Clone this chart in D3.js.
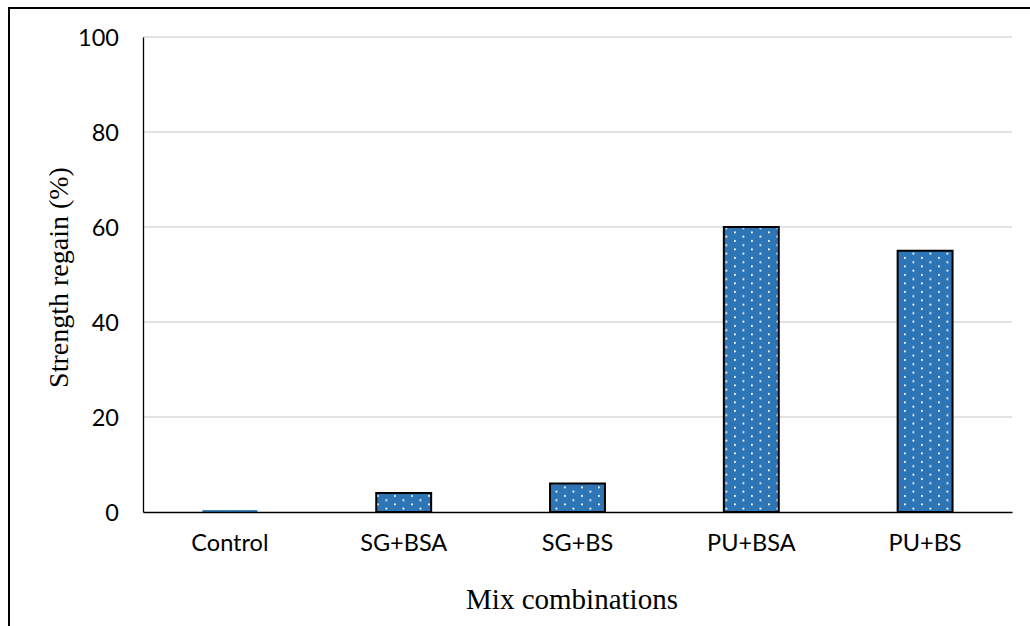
<!DOCTYPE html>
<html>
<head>
<meta charset="utf-8">
<script src="https://cdn.jsdelivr.net/npm/d3@7"></script>
<style>
  html, body { margin: 0; padding: 0; background: #fff; }
  svg { display: block; }
</style>
</head>
<body>
<svg id="chart" width="1030" height="626"></svg>
<script>
const categories = ["Control", "SG+BSA", "SG+BS", "PU+BSA", "PU+BS"];
const values = [0.4, 4, 6, 60, 55];
const yTicks = [0, 20, 40, 60, 80, 100];
const xTitle = "Mix combinations";
const yTitle = "Strength regain (%)";

const svg = d3.select("#chart");
const margin = { left: 143, right: 1012, top: 37, bottom: 512 };
const tickFont = "Lato, 'Open Sans', sans-serif";

// outer frame
svg.append("rect")
  .attr("x", 9).attr("y", 8)
  .attr("width", 1200).attr("height", 800)
  .attr("fill", "none").attr("stroke", "#000").attr("stroke-width", 2);

// dotted pattern
const defs = svg.append("defs");
const pat = defs.append("pattern")
  .attr("id", "dots")
  .attr("patternUnits", "userSpaceOnUse")
  .attr("width", 17).attr("height", 8.5)
  .attr("x", 0).attr("y", 0);
pat.append("rect").attr("width", 17).attr("height", 8.5).attr("fill", "#2E75B6");
pat.append("rect").attr("x", 3).attr("y", 2).attr("width", 1.8).attr("height", 1.8).attr("fill", "#fff");
pat.append("rect").attr("x", 11.5).attr("y", 6.25).attr("width", 1.8).attr("height", 1.8).attr("fill", "#fff");

const x = d3.scaleBand()
  .domain(categories)
  .range([margin.left, margin.right])
  .paddingInner(0.684)
  .paddingOuter(0.342);

const y = d3.scaleLinear()
  .domain([0, 100])
  .range([margin.bottom, margin.top]);

// gridlines
svg.append("g")
  .selectAll("line")
  .data(yTicks.filter(d => d > 0))
  .join("line")
  .attr("x1", margin.left).attr("x2", margin.right)
  .attr("y1", d => y(d)).attr("y2", d => y(d))
  .attr("stroke", "#d9d9d9").attr("stroke-width", 1.3);

// y axis
const yAxis = svg.append("g")
  .attr("transform", `translate(${margin.left},0)`)
  .call(d3.axisLeft(y).tickValues(yTicks).tickSize(0).tickPadding(24).tickFormat(d3.format("d")));
yAxis.attr("font-family", null).attr("font-size", null);
yAxis.select(".domain").attr("stroke", "#000").attr("stroke-width", 1.3);
yAxis.selectAll("text")
  .style("font-family", tickFont)
  .style("font-size", "23.5px")
  .style("font-weight", "400")
  .attr("fill", "#000")
  .attr("dy", "0.35em");

// bars
svg.append("g")
  .selectAll("rect")
  .data(values)
  .join("rect")
  .attr("x", (d, i) => x(categories[i]))
  .attr("width", x.bandwidth())
  .attr("y", d => y(d))
  .attr("height", d => y(0) - y(d))
  .attr("fill", "url(#dots)")
  .attr("stroke", d => d >= 1 ? "#000" : "none")
  .attr("stroke-width", 2);

// x axis
const xAxis = svg.append("g")
  .attr("transform", `translate(0,${margin.bottom})`)
  .call(d3.axisBottom(x).tickSize(0).tickPadding(22));
xAxis.attr("font-family", null).attr("font-size", null);
xAxis.select(".domain").attr("stroke", "#000").attr("stroke-width", 1.5);
xAxis.selectAll("text")
  .style("font-family", tickFont)
  .style("font-size", "23.5px")
  .style("font-weight", "400")
  .attr("fill", "#000");

// titles
svg.append("text")
  .attr("x", 572)
  .attr("y", 609)
  .attr("text-anchor", "middle")
  .style("font-family", "'Liberation Serif', 'Times New Roman', serif")
  .style("font-size", "29px")
  .attr("fill", "#000")
  .text(xTitle);

svg.append("text")
  .attr("transform", `translate(68,${(167 + 388) / 2}) rotate(-90)`)
  .attr("text-anchor", "middle")
  .style("font-family", "'Liberation Serif', 'Times New Roman', serif")
  .style("font-size", "28px")
  .attr("fill", "#000")
  .text(yTitle);
</script>
</body>
</html>
